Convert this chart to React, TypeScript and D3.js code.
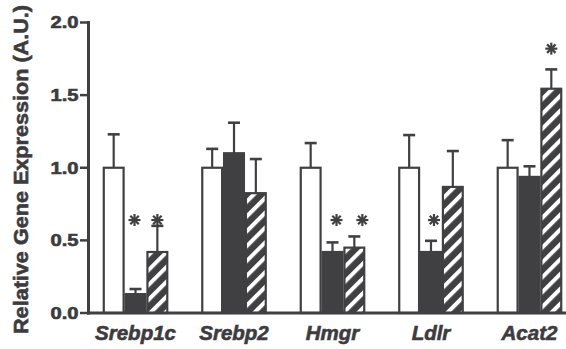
import React from "react";
import * as d3 from "d3";

const genes = ["Srebp1c", "Srebp2", "Hmgr", "Ldlr", "Acat2"];
const series = ["control", "treatmentA", "treatmentB"];
const controlValues = [1.0, 1.0, 1.0, 1.0, 1.0];
const controlErr = [1.23, 1.13, 1.17, 1.225, 1.19];
const treatmentAValues = [0.13, 1.1, 0.42, 0.42, 0.937];
const treatmentAErr = [0.165, 1.31, 0.486, 0.497, 1.01];
const treatmentBValues = [0.42, 0.825, 0.45, 0.868, 1.544];
const treatmentBErr = [0.6, 1.06, 0.527, 1.115, 1.677];
const yTicks = [0, 0.5, 1.0, 1.5, 2.0];
const yTitle = "Relative Gene Expression (A.U.)";
// significance marks: gene, series, height in data units, small horizontal nudge
const stars = [
  { gene: "Srebp1c", s: "treatmentA", y: 0.64, dx: -1 },
  { gene: "Srebp1c", s: "treatmentB", y: 0.64, dx: 0 },
  { gene: "Hmgr", s: "treatmentA", y: 0.64, dx: 4 },
  { gene: "Hmgr", s: "treatmentB", y: 0.64, dx: 8 },
  { gene: "Ldlr", s: "treatmentA", y: 0.64, dx: 3 },
  { gene: "Acat2", s: "treatmentB", y: 1.82, dx: 0 },
];

const DARK = "#404042";
const TEXT = "#3c3c3e";
const FONT = "Liberation Sans, Arial, sans-serif";

export default function App() {
  const W = 566, H = 349;
  const y = d3.scaleLinear().domain([0, 2]).range([313, 22.5]);
  const x = d3.scaleBand<string>().domain(genes).range([88, 577]).paddingInner(0.335).paddingOuter(0.15);
  const xs = d3.scaleBand<string>().domain(series).range([0, x.bandwidth()]).padding(0);
  const vals: Record<string, number[]> = { control: controlValues, treatmentA: treatmentAValues, treatmentB: treatmentBValues };
  const errs: Record<string, number[]> = { control: controlErr, treatmentA: treatmentAErr, treatmentB: treatmentBErr };
  const bw = xs.bandwidth();

  const bars: JSX.Element[] = [];
  const errBars: JSX.Element[] = [];
  genes.forEach((g, gi) => {
    series.forEach((s) => {
      const v = vals[s][gi];
      const e = errs[s][gi];
      const x0 = (x(g) as number) + (xs(s) as number);
      const cx = x0 + bw / 2;
      errBars.push(
        <g key={`e-${g}-${s}`}>
          <line x1={cx} x2={cx} y1={y(v)} y2={y(e)} stroke={DARK} strokeWidth={2.2} />
          <line x1={cx - 6} x2={cx + 6} y1={y(e)} y2={y(e)} stroke={DARK} strokeWidth={2.6} />
        </g>
      );
      const fill = s === "control" ? "#ffffff" : s === "treatmentA" ? DARK : "url(#hatch)";
      bars.push(
        <rect key={`b-${g}-${s}`} x={x0 + 1} y={y(v)} width={bw - 2} height={y(0) - y(v)} fill={fill} stroke={DARK} strokeWidth={2.2} />
      );
    });
  });

  const starMarks = stars.map((st, i) => {
    const cx = (x(st.gene) as number) + (xs(st.s) as number) + bw / 2 + st.dx;
    const cy = y(st.y);
    const r = 6;
    return (
      <g key={`s-${i}`} stroke={DARK} strokeWidth={2.2} strokeLinecap="butt">
        {[0, 45, 90, 135].map((a) => {
          const rad = (a * Math.PI) / 180;
          return <line key={a} x1={cx - r * Math.cos(rad)} y1={cy - r * Math.sin(rad)} x2={cx + r * Math.cos(rad)} y2={cy + r * Math.sin(rad)} />;
        })}
      </g>
    );
  });

  return (
    <svg width={W} height={H} style={{ position: "absolute", left: 0, top: 0, display: "block", background: "#fff" }}>
      <defs>
        <pattern id="hatch" patternUnits="userSpaceOnUse" width={10.5} height={10.5} patternTransform="rotate(45)">
          <rect x={0} y={0} width={10.5} height={10.5} fill={DARK} />
          <rect x={0} y={0} width={4} height={10.5} fill="#ffffff" />
        </pattern>
      </defs>
      <rect x={0} y={0} width={W} height={H} fill="#fff" />
      {starMarks}
      {errBars}
      {bars}
      <line x1={88.5} x2={88.5} y1={y(2) - 1.5} y2={y(0) + 1.5} stroke={DARK} strokeWidth={3} />
      <line x1={87} x2={566} y1={y(0)} y2={y(0)} stroke={DARK} strokeWidth={3} />
      {yTicks.map((t) => (
        <g key={t}>
          <line x1={80} x2={88.5} y1={y(t)} y2={y(t)} stroke={DARK} strokeWidth={2.5} />
          <text x={78.5} y={y(t)} dy="0.36em" textAnchor="end" fontFamily={FONT} fontWeight="bold" fontSize={16} fill={TEXT} stroke={TEXT} strokeWidth={0.6} textLength={28} lengthAdjust="spacingAndGlyphs">
            {d3.format(".1f")(t)}
          </text>
        </g>
      ))}
      {genes.map((g) => (
        <text key={g} x={(x(g) as number) + x.bandwidth() / 2} y={340} textAnchor="middle" fontFamily={FONT} fontWeight="bold" fontStyle="italic" fontSize={20.5} fill={TEXT} stroke={TEXT} strokeWidth={0.6}>
          {g}
        </text>
      ))}
      <text transform="translate(28,169.5) rotate(-90)" textAnchor="middle" fontFamily={FONT} fontWeight="bold" fontSize={20} fill={TEXT} stroke={TEXT} strokeWidth={0.6} textLength={329} lengthAdjust="spacingAndGlyphs">
        {yTitle}
      </text>
    </svg>
  );
}
